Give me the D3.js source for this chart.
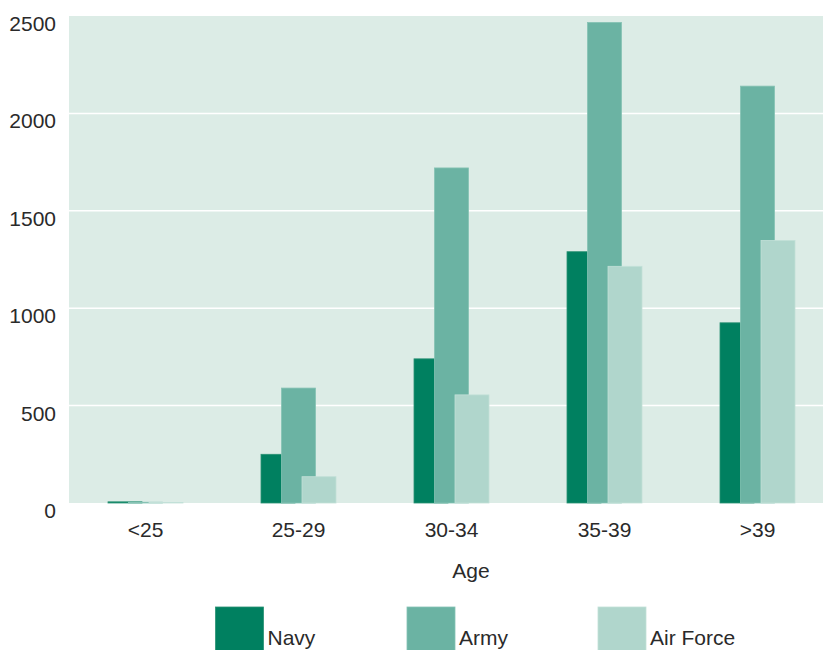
<!DOCTYPE html>
<html>
<head>
<meta charset="utf-8">
<script src="https://cdn.jsdelivr.net/npm/d3@7"></script>
<style>
  html, body { margin: 0; padding: 0; background: #fff; }
  svg { display: block; }
  text { font-family: "Liberation Sans", Arial, sans-serif; fill: #2a2a2a; }
</style>
</head>
<body>
<svg id="chart" width="823" height="650"></svg>
<script>
const categories = ["<25", "25-29", "30-34", "35-39", ">39"];
const seriesNames = ["Navy", "Army", "Air Force"];
const navy = [6, 250, 740, 1290, 925];
const army = [4, 590, 1720, 2467, 2140];
const airForce = [3, 135, 555, 1215, 1348];
const yTicks = [0, 500, 1000, 1500, 2000, 2500];
const colors = ["#008060", "#6bb3a3", "#b0d6cc"];
const strokes = ["#2a9174", "#86c2b4", "#c2e0d8"];

const series = [navy, army, airForce];

const svg = d3.select("#chart");
const plotLeft = 69, plotRight = 834, plotTop = 16, plotBottom = 503;

const x = d3.scaleBand().domain(categories).range([plotLeft, plotRight]);
const y = d3.scaleLinear().domain([0, 2500]).range([plotBottom, plotTop]);

// background
svg.append("rect").attr("x", plotLeft).attr("y", plotTop)
  .attr("width", plotRight - plotLeft).attr("height", plotBottom - plotTop)
  .attr("fill", "#dcece6");

// gridlines
svg.append("g").selectAll("line").data(yTicks.filter(d => d > 0 && d < 2500)).join("line")
  .attr("x1", plotLeft).attr("x2", plotRight)
  .attr("y1", d => y(d)).attr("y2", d => y(d))
  .attr("stroke", "#ffffff").attr("stroke-width", 1.5);

// bars
const barW = 34, step = 20.5;
series.forEach((vals, si) => {
  svg.append("g").selectAll("rect").data(categories).join("rect")
    .attr("x", c => x(c) + x.bandwidth() / 2 + (si - 1) * step - barW / 2)
    .attr("y", (c, i) => y(vals[i]))
    .attr("width", barW)
    .attr("height", (c, i) => y(0) - y(vals[i]))
    .attr("fill", colors[si])
    .attr("stroke", strokes[si])
    .attr("stroke-width", 0.8);
});

// y axis labels
svg.append("g").selectAll("text").data(yTicks).join("text")
  .attr("x", 56).attr("y", d => y(d) + 15)
  .attr("text-anchor", "end")
  .attr("font-size", 21)
  .text(d => d);

// x axis labels
svg.append("g").selectAll("text").data(categories).join("text")
  .attr("x", c => x(c) + x.bandwidth() / 2)
  .attr("y", 537)
  .attr("text-anchor", "middle")
  .attr("font-size", 21)
  .text(c => c);

// axis title
svg.append("text").attr("x", 471).attr("y", 578)
  .attr("text-anchor", "middle").attr("font-size", 21).text("Age");

// legend
const legX = [215.5, 407, 598];
seriesNames.forEach((n, i) => {
  svg.append("rect").attr("x", legX[i]).attr("y", 607)
    .attr("width", 48).attr("height", 48)
    .attr("fill", colors[i]).attr("stroke", strokes[i]).attr("stroke-width", 0.8);
  svg.append("text").attr("x", legX[i] + 52).attr("y", 645)
    .attr("font-size", 21).text(n);
});
</script>
</body>
</html>
